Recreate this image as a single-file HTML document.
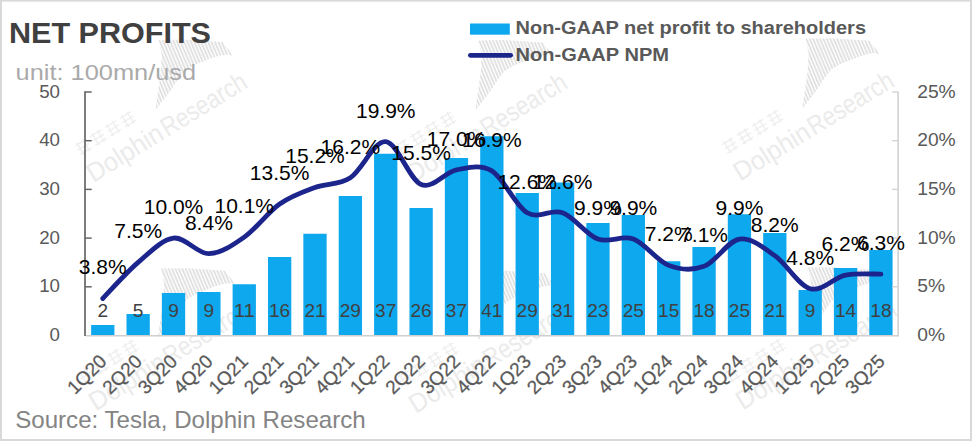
<!DOCTYPE html>
<html><head><meta charset="utf-8"><title>Net Profits</title>
<style>html,body{margin:0;padding:0;background:#fff;}body{width:972px;height:441px;position:relative;overflow:hidden;font-family:"Liberation Sans",sans-serif;}</style></head>
<body>
<svg width="972" height="441" viewBox="0 0 972 441" style="position:absolute;left:0;top:0;font-family:'Liberation Sans',sans-serif">
<rect x="0" y="0" width="972" height="441" fill="#fff"/>
<defs><pattern id="hatch" width="3.15" height="10" patternUnits="userSpaceOnUse" patternTransform="rotate(-23)"><rect x="0" y="0" width="1.9" height="10" fill="#e1e1e1"/></pattern></defs>
<g transform="translate(95.1,181.3)">
<polygon points="60.3,-71.5 63,-90.6 65.7,-108.7 66.6,-126.9 63.5,-141.4 89.3,-141.7 127.4,-139.2 132.9,-132.3 137.9,-125.4 132.9,-126.9 125.6,-125.9 116.5,-123.2 107.4,-119.6 98.4,-116 89.3,-110.5 82.9,-102.4 76.6,-92.4 71.1,-85.1 61.2,-72.4" fill="url(#hatch)"/>
<g transform="translate(-1.7,1.6) rotate(-31.7)">
<text x="0" y="0" font-size="26.5" fill="#ebebeb" textLength="85" lengthAdjust="spacingAndGlyphs">Dolphin</text><text x="87" y="0" font-size="26.5" fill="#ebebeb" textLength="96" lengthAdjust="spacingAndGlyphs">Research</text>
<g stroke="#eeeeee" stroke-width="1.3" fill="none"><path d="M4.0,-41 H17.0 M4.0,-36 H17.0 M4.0,-31 H17.0 M7.0,-43 V-29 M13.5,-43 V-29"/></g>
<g stroke="#eeeeee" stroke-width="1.3" fill="none"><path d="M21.5,-41 H34.5 M21.5,-36 H34.5 M21.5,-31 H34.5 M24.5,-43 V-29 M31.0,-43 V-29"/></g>
<g stroke="#eeeeee" stroke-width="1.3" fill="none"><path d="M39.0,-41 H52.0 M39.0,-36 H52.0 M39.0,-31 H52.0 M42.0,-43 V-29 M48.5,-43 V-29"/></g>
<g stroke="#eeeeee" stroke-width="1.3" fill="none"><path d="M56.5,-41 H69.5 M56.5,-36 H69.5 M56.5,-31 H69.5 M59.5,-43 V-29 M66.0,-43 V-29"/></g>
</g></g>
<g transform="translate(415,181.8)">
<polygon points="60.3,-71.5 63,-90.6 65.7,-108.7 66.6,-126.9 63.5,-141.4 89.3,-141.7 127.4,-139.2 132.9,-132.3 137.9,-125.4 132.9,-126.9 125.6,-125.9 116.5,-123.2 107.4,-119.6 98.4,-116 89.3,-110.5 82.9,-102.4 76.6,-92.4 71.1,-85.1 61.2,-72.4" fill="url(#hatch)"/>
<g transform="translate(-1.7,1.6) rotate(-31.7)">
<text x="0" y="0" font-size="26.5" fill="#ebebeb" textLength="85" lengthAdjust="spacingAndGlyphs">Dolphin</text><text x="87" y="0" font-size="26.5" fill="#ebebeb" textLength="96" lengthAdjust="spacingAndGlyphs">Research</text>
<g stroke="#eeeeee" stroke-width="1.3" fill="none"><path d="M4.0,-41 H17.0 M4.0,-36 H17.0 M4.0,-31 H17.0 M7.0,-43 V-29 M13.5,-43 V-29"/></g>
<g stroke="#eeeeee" stroke-width="1.3" fill="none"><path d="M21.5,-41 H34.5 M21.5,-36 H34.5 M21.5,-31 H34.5 M24.5,-43 V-29 M31.0,-43 V-29"/></g>
<g stroke="#eeeeee" stroke-width="1.3" fill="none"><path d="M39.0,-41 H52.0 M39.0,-36 H52.0 M39.0,-31 H52.0 M42.0,-43 V-29 M48.5,-43 V-29"/></g>
<g stroke="#eeeeee" stroke-width="1.3" fill="none"><path d="M56.5,-41 H69.5 M56.5,-36 H69.5 M56.5,-31 H69.5 M59.5,-43 V-29 M66.0,-43 V-29"/></g>
</g></g>
<g transform="translate(742,180)">
<polygon points="60.3,-71.5 63,-90.6 65.7,-108.7 66.6,-126.9 63.5,-141.4 89.3,-141.7 127.4,-139.2 132.9,-132.3 137.9,-125.4 132.9,-126.9 125.6,-125.9 116.5,-123.2 107.4,-119.6 98.4,-116 89.3,-110.5 82.9,-102.4 76.6,-92.4 71.1,-85.1 61.2,-72.4" fill="url(#hatch)"/>
<g transform="translate(-1.7,1.6) rotate(-31.7)">
<text x="0" y="0" font-size="26.5" fill="#ebebeb" textLength="85" lengthAdjust="spacingAndGlyphs">Dolphin</text><text x="87" y="0" font-size="26.5" fill="#ebebeb" textLength="96" lengthAdjust="spacingAndGlyphs">Research</text>
<g stroke="#eeeeee" stroke-width="1.3" fill="none"><path d="M4.0,-41 H17.0 M4.0,-36 H17.0 M4.0,-31 H17.0 M7.0,-43 V-29 M13.5,-43 V-29"/></g>
<g stroke="#eeeeee" stroke-width="1.3" fill="none"><path d="M21.5,-41 H34.5 M21.5,-36 H34.5 M21.5,-31 H34.5 M24.5,-43 V-29 M31.0,-43 V-29"/></g>
<g stroke="#eeeeee" stroke-width="1.3" fill="none"><path d="M39.0,-41 H52.0 M39.0,-36 H52.0 M39.0,-31 H52.0 M42.0,-43 V-29 M48.5,-43 V-29"/></g>
<g stroke="#eeeeee" stroke-width="1.3" fill="none"><path d="M56.5,-41 H69.5 M56.5,-36 H69.5 M56.5,-31 H69.5 M59.5,-43 V-29 M66.0,-43 V-29"/></g>
</g></g>
<g transform="translate(97.5,410)">
<polygon points="60.3,-71.5 63,-90.6 65.7,-108.7 66.6,-126.9 63.5,-141.4 89.3,-141.7 127.4,-139.2 132.9,-132.3 137.9,-125.4 132.9,-126.9 125.6,-125.9 116.5,-123.2 107.4,-119.6 98.4,-116 89.3,-110.5 82.9,-102.4 76.6,-92.4 71.1,-85.1 61.2,-72.4" fill="url(#hatch)"/>
<g transform="translate(-1.7,1.6) rotate(-31.7)">
<text x="0" y="0" font-size="26.5" fill="#ebebeb" textLength="85" lengthAdjust="spacingAndGlyphs">Dolphin</text><text x="87" y="0" font-size="26.5" fill="#ebebeb" textLength="96" lengthAdjust="spacingAndGlyphs">Research</text>
<g stroke="#eeeeee" stroke-width="1.3" fill="none"><path d="M4.0,-41 H17.0 M4.0,-36 H17.0 M4.0,-31 H17.0 M7.0,-43 V-29 M13.5,-43 V-29"/></g>
<g stroke="#eeeeee" stroke-width="1.3" fill="none"><path d="M21.5,-41 H34.5 M21.5,-36 H34.5 M21.5,-31 H34.5 M24.5,-43 V-29 M31.0,-43 V-29"/></g>
<g stroke="#eeeeee" stroke-width="1.3" fill="none"><path d="M39.0,-41 H52.0 M39.0,-36 H52.0 M39.0,-31 H52.0 M42.0,-43 V-29 M48.5,-43 V-29"/></g>
<g stroke="#eeeeee" stroke-width="1.3" fill="none"><path d="M56.5,-41 H69.5 M56.5,-36 H69.5 M56.5,-31 H69.5 M59.5,-43 V-29 M66.0,-43 V-29"/></g>
</g></g>
<g transform="translate(417.5,412.5)">
<polygon points="60.3,-71.5 63,-90.6 65.7,-108.7 66.6,-126.9 63.5,-141.4 89.3,-141.7 127.4,-139.2 132.9,-132.3 137.9,-125.4 132.9,-126.9 125.6,-125.9 116.5,-123.2 107.4,-119.6 98.4,-116 89.3,-110.5 82.9,-102.4 76.6,-92.4 71.1,-85.1 61.2,-72.4" fill="url(#hatch)"/>
<g transform="translate(-1.7,1.6) rotate(-31.7)">
<text x="0" y="0" font-size="26.5" fill="#ebebeb" textLength="85" lengthAdjust="spacingAndGlyphs">Dolphin</text><text x="87" y="0" font-size="26.5" fill="#ebebeb" textLength="96" lengthAdjust="spacingAndGlyphs">Research</text>
<g stroke="#eeeeee" stroke-width="1.3" fill="none"><path d="M4.0,-41 H17.0 M4.0,-36 H17.0 M4.0,-31 H17.0 M7.0,-43 V-29 M13.5,-43 V-29"/></g>
<g stroke="#eeeeee" stroke-width="1.3" fill="none"><path d="M21.5,-41 H34.5 M21.5,-36 H34.5 M21.5,-31 H34.5 M24.5,-43 V-29 M31.0,-43 V-29"/></g>
<g stroke="#eeeeee" stroke-width="1.3" fill="none"><path d="M39.0,-41 H52.0 M39.0,-36 H52.0 M39.0,-31 H52.0 M42.0,-43 V-29 M48.5,-43 V-29"/></g>
<g stroke="#eeeeee" stroke-width="1.3" fill="none"><path d="M56.5,-41 H69.5 M56.5,-36 H69.5 M56.5,-31 H69.5 M59.5,-43 V-29 M66.0,-43 V-29"/></g>
</g></g>
<g transform="translate(744.5,409)">
<polygon points="60.3,-71.5 63,-90.6 65.7,-108.7 66.6,-126.9 63.5,-141.4 89.3,-141.7 127.4,-139.2 132.9,-132.3 137.9,-125.4 132.9,-126.9 125.6,-125.9 116.5,-123.2 107.4,-119.6 98.4,-116 89.3,-110.5 82.9,-102.4 76.6,-92.4 71.1,-85.1 61.2,-72.4" fill="url(#hatch)"/>
<g transform="translate(-1.7,1.6) rotate(-31.7)">
<text x="0" y="0" font-size="26.5" fill="#ebebeb" textLength="85" lengthAdjust="spacingAndGlyphs">Dolphin</text><text x="87" y="0" font-size="26.5" fill="#ebebeb" textLength="96" lengthAdjust="spacingAndGlyphs">Research</text>
<g stroke="#eeeeee" stroke-width="1.3" fill="none"><path d="M4.0,-41 H17.0 M4.0,-36 H17.0 M4.0,-31 H17.0 M7.0,-43 V-29 M13.5,-43 V-29"/></g>
<g stroke="#eeeeee" stroke-width="1.3" fill="none"><path d="M21.5,-41 H34.5 M21.5,-36 H34.5 M21.5,-31 H34.5 M24.5,-43 V-29 M31.0,-43 V-29"/></g>
<g stroke="#eeeeee" stroke-width="1.3" fill="none"><path d="M39.0,-41 H52.0 M39.0,-36 H52.0 M39.0,-31 H52.0 M42.0,-43 V-29 M48.5,-43 V-29"/></g>
<g stroke="#eeeeee" stroke-width="1.3" fill="none"><path d="M56.5,-41 H69.5 M56.5,-36 H69.5 M56.5,-31 H69.5 M59.5,-43 V-29 M66.0,-43 V-29"/></g>
</g></g>
<rect x="91.13" y="325.00" width="23.3" height="10.50" fill="#0ea8ee"/>
<rect x="126.50" y="314.00" width="23.3" height="21.50" fill="#0ea8ee"/>
<rect x="161.87" y="293.00" width="23.3" height="42.50" fill="#0ea8ee"/>
<rect x="197.24" y="292.00" width="23.3" height="43.50" fill="#0ea8ee"/>
<rect x="232.61" y="284.25" width="23.3" height="51.25" fill="#0ea8ee"/>
<rect x="267.98" y="257.00" width="23.3" height="78.50" fill="#0ea8ee"/>
<rect x="303.35" y="233.75" width="23.3" height="101.75" fill="#0ea8ee"/>
<rect x="338.72" y="196.00" width="23.3" height="139.50" fill="#0ea8ee"/>
<rect x="374.09" y="153.75" width="23.3" height="181.75" fill="#0ea8ee"/>
<rect x="409.46" y="208.00" width="23.3" height="127.50" fill="#0ea8ee"/>
<rect x="444.83" y="158.00" width="23.3" height="177.50" fill="#0ea8ee"/>
<rect x="480.20" y="136.25" width="23.3" height="199.25" fill="#0ea8ee"/>
<rect x="515.57" y="193.00" width="23.3" height="142.50" fill="#0ea8ee"/>
<rect x="550.94" y="182.50" width="23.3" height="153.00" fill="#0ea8ee"/>
<rect x="586.31" y="223.00" width="23.3" height="112.50" fill="#0ea8ee"/>
<rect x="621.68" y="215.00" width="23.3" height="120.50" fill="#0ea8ee"/>
<rect x="657.05" y="261.25" width="23.3" height="74.25" fill="#0ea8ee"/>
<rect x="692.42" y="247.00" width="23.3" height="88.50" fill="#0ea8ee"/>
<rect x="727.79" y="214.25" width="23.3" height="121.25" fill="#0ea8ee"/>
<rect x="763.16" y="233.00" width="23.3" height="102.50" fill="#0ea8ee"/>
<rect x="798.53" y="290.00" width="23.3" height="45.50" fill="#0ea8ee"/>
<rect x="833.90" y="268.00" width="23.3" height="67.50" fill="#0ea8ee"/>
<rect x="869.27" y="250.00" width="23.3" height="85.50" fill="#0ea8ee"/>
<line x1="85.8" y1="335.7" x2="898.6" y2="335.7" stroke="#cfcfcf" stroke-width="1.6"/>
<line x1="898.1" y1="91.4" x2="898.1" y2="336.5" stroke="#cfcfcf" stroke-width="1.5"/>
<line x1="85.0" y1="91.3" x2="85.0" y2="335.9" stroke="#666666" stroke-width="1.7"/>
<text x="49.59" y="341.00" font-size="17.5" fill="#595959" textLength="10.41" lengthAdjust="spacingAndGlyphs">0</text>
<text x="917.2" y="341.00" font-size="17.5" fill="#595959" textLength="27.82" lengthAdjust="spacingAndGlyphs">0%</text>
<line x1="85.1" y1="286.80" x2="91.69999999999999" y2="286.80" stroke="#666666" stroke-width="1.5"/>
<line x1="892.1" y1="286.80" x2="898.1" y2="286.80" stroke="#d4d4d4" stroke-width="1.4"/>
<text x="39.18" y="292.30" font-size="17.5" fill="#595959" textLength="20.82" lengthAdjust="spacingAndGlyphs">10</text>
<text x="917.2" y="292.30" font-size="17.5" fill="#595959" textLength="27.82" lengthAdjust="spacingAndGlyphs">5%</text>
<line x1="85.1" y1="238.10" x2="91.69999999999999" y2="238.10" stroke="#666666" stroke-width="1.5"/>
<line x1="892.1" y1="238.10" x2="898.1" y2="238.10" stroke="#d4d4d4" stroke-width="1.4"/>
<text x="39.18" y="243.60" font-size="17.5" fill="#595959" textLength="20.82" lengthAdjust="spacingAndGlyphs">20</text>
<text x="917.2" y="243.60" font-size="17.5" fill="#595959" textLength="38.52" lengthAdjust="spacingAndGlyphs">10%</text>
<line x1="85.1" y1="189.40" x2="91.69999999999999" y2="189.40" stroke="#666666" stroke-width="1.5"/>
<line x1="892.1" y1="189.40" x2="898.1" y2="189.40" stroke="#d4d4d4" stroke-width="1.4"/>
<text x="39.18" y="194.90" font-size="17.5" fill="#595959" textLength="20.82" lengthAdjust="spacingAndGlyphs">30</text>
<text x="917.2" y="194.90" font-size="17.5" fill="#595959" textLength="38.52" lengthAdjust="spacingAndGlyphs">15%</text>
<line x1="85.1" y1="140.70" x2="91.69999999999999" y2="140.70" stroke="#666666" stroke-width="1.5"/>
<line x1="892.1" y1="140.70" x2="898.1" y2="140.70" stroke="#d4d4d4" stroke-width="1.4"/>
<text x="39.18" y="146.20" font-size="17.5" fill="#595959" textLength="20.82" lengthAdjust="spacingAndGlyphs">40</text>
<text x="917.2" y="146.20" font-size="17.5" fill="#595959" textLength="38.52" lengthAdjust="spacingAndGlyphs">20%</text>
<line x1="85.1" y1="92.00" x2="91.69999999999999" y2="92.00" stroke="#666666" stroke-width="1.5"/>
<line x1="892.1" y1="92.00" x2="898.1" y2="92.00" stroke="#d4d4d4" stroke-width="1.4"/>
<text x="39.18" y="97.50" font-size="17.5" fill="#595959" textLength="20.82" lengthAdjust="spacingAndGlyphs">50</text>
<text x="917.2" y="97.50" font-size="17.5" fill="#595959" textLength="38.52" lengthAdjust="spacingAndGlyphs">25%</text>
<text x="97.48" y="317.4" font-size="18" fill="#404040" textLength="10.60" lengthAdjust="spacingAndGlyphs">2</text>
<text x="132.85" y="317.4" font-size="18" fill="#404040" textLength="10.60" lengthAdjust="spacingAndGlyphs">5</text>
<text x="168.22" y="317.4" font-size="18" fill="#404040" textLength="10.60" lengthAdjust="spacingAndGlyphs">9</text>
<text x="203.59" y="317.4" font-size="18" fill="#404040" textLength="10.60" lengthAdjust="spacingAndGlyphs">9</text>
<text x="233.66" y="317.4" font-size="18" fill="#404040" textLength="21.20" lengthAdjust="spacingAndGlyphs">11</text>
<text x="269.03" y="317.4" font-size="18" fill="#404040" textLength="21.20" lengthAdjust="spacingAndGlyphs">16</text>
<text x="304.40" y="317.4" font-size="18" fill="#404040" textLength="21.20" lengthAdjust="spacingAndGlyphs">21</text>
<text x="339.77" y="317.4" font-size="18" fill="#404040" textLength="21.20" lengthAdjust="spacingAndGlyphs">29</text>
<text x="375.14" y="317.4" font-size="18" fill="#404040" textLength="21.20" lengthAdjust="spacingAndGlyphs">37</text>
<text x="410.51" y="317.4" font-size="18" fill="#404040" textLength="21.20" lengthAdjust="spacingAndGlyphs">26</text>
<text x="445.88" y="317.4" font-size="18" fill="#404040" textLength="21.20" lengthAdjust="spacingAndGlyphs">37</text>
<text x="481.25" y="317.4" font-size="18" fill="#404040" textLength="21.20" lengthAdjust="spacingAndGlyphs">41</text>
<text x="516.62" y="317.4" font-size="18" fill="#404040" textLength="21.20" lengthAdjust="spacingAndGlyphs">29</text>
<text x="551.99" y="317.4" font-size="18" fill="#404040" textLength="21.20" lengthAdjust="spacingAndGlyphs">31</text>
<text x="587.36" y="317.4" font-size="18" fill="#404040" textLength="21.20" lengthAdjust="spacingAndGlyphs">23</text>
<text x="622.73" y="317.4" font-size="18" fill="#404040" textLength="21.20" lengthAdjust="spacingAndGlyphs">25</text>
<text x="658.10" y="317.4" font-size="18" fill="#404040" textLength="21.20" lengthAdjust="spacingAndGlyphs">15</text>
<text x="693.47" y="317.4" font-size="18" fill="#404040" textLength="21.20" lengthAdjust="spacingAndGlyphs">18</text>
<text x="728.84" y="317.4" font-size="18" fill="#404040" textLength="21.20" lengthAdjust="spacingAndGlyphs">25</text>
<text x="764.21" y="317.4" font-size="18" fill="#404040" textLength="21.20" lengthAdjust="spacingAndGlyphs">21</text>
<text x="804.88" y="317.4" font-size="18" fill="#404040" textLength="10.60" lengthAdjust="spacingAndGlyphs">9</text>
<text x="834.95" y="317.4" font-size="18" fill="#404040" textLength="21.20" lengthAdjust="spacingAndGlyphs">14</text>
<text x="870.32" y="317.4" font-size="18" fill="#404040" textLength="21.20" lengthAdjust="spacingAndGlyphs">18</text>
<path d="M102.78,298.49 C108.68,292.48 126.36,272.51 138.15,262.45 C149.94,252.39 161.73,239.56 173.52,238.10 C185.31,236.64 197.10,253.85 208.89,253.68 C220.68,253.52 232.47,245.41 244.26,237.13 C256.05,228.85 267.84,212.29 279.63,204.01 C291.42,195.73 303.21,191.83 315.00,187.45 C326.79,183.07 338.58,185.34 350.37,177.71 C362.16,170.08 373.95,140.54 385.74,141.67 C397.53,142.81 409.32,179.82 421.11,184.53 C432.90,189.24 444.69,172.19 456.48,169.92 C468.27,167.65 480.06,163.75 491.85,170.89 C503.64,178.04 515.43,205.80 527.22,212.78 C539.01,219.76 550.80,208.39 562.59,212.78 C574.38,217.16 586.17,234.69 597.96,239.07 C609.75,243.46 621.54,234.69 633.33,239.07 C645.12,243.46 656.91,260.83 668.70,265.37 C680.49,269.92 692.28,270.73 704.07,266.35 C715.86,261.96 727.65,240.86 739.44,239.07 C751.23,237.29 763.02,247.35 774.81,255.63 C786.60,263.91 798.39,285.50 810.18,288.75 C821.97,291.99 833.76,277.55 845.55,275.11 C857.34,272.68 875.02,274.30 880.92,274.14" fill="none" stroke="#1c258c" stroke-width="4.8" stroke-linecap="round" stroke-linejoin="round"/>
<text x="102.78" y="274.39" font-size="21" fill="#000" text-anchor="middle">3.8%</text>
<text x="138.15" y="238.35" font-size="21" fill="#000" text-anchor="middle">7.5%</text>
<text x="173.52" y="214.00" font-size="21" fill="#000" text-anchor="middle">10.0%</text>
<text x="208.89" y="229.58" font-size="21" fill="#000" text-anchor="middle">8.4%</text>
<text x="244.26" y="213.03" font-size="21" fill="#000" text-anchor="middle">10.1%</text>
<text x="279.63" y="179.91" font-size="21" fill="#000" text-anchor="middle">13.5%</text>
<text x="315.00" y="163.35" font-size="21" fill="#000" text-anchor="middle">15.2%</text>
<text x="350.37" y="153.61" font-size="21" fill="#000" text-anchor="middle">16.2%</text>
<text x="385.74" y="117.57" font-size="21" fill="#000" text-anchor="middle">19.9%</text>
<text x="421.11" y="160.43" font-size="21" fill="#000" text-anchor="middle">15.5%</text>
<text x="456.48" y="145.82" font-size="21" fill="#000" text-anchor="middle">17.0%</text>
<text x="491.85" y="146.79" font-size="21" fill="#000" text-anchor="middle">16.9%</text>
<text x="527.22" y="188.68" font-size="21" fill="#000" text-anchor="middle">12.6%</text>
<text x="562.59" y="188.68" font-size="21" fill="#000" text-anchor="middle">12.6%</text>
<text x="597.96" y="214.97" font-size="21" fill="#000" text-anchor="middle">9.9%</text>
<text x="633.33" y="214.97" font-size="21" fill="#000" text-anchor="middle">9.9%</text>
<text x="668.70" y="241.27" font-size="21" fill="#000" text-anchor="middle">7.2%</text>
<text x="704.07" y="242.25" font-size="21" fill="#000" text-anchor="middle">7.1%</text>
<text x="739.44" y="214.97" font-size="21" fill="#000" text-anchor="middle">9.9%</text>
<text x="774.81" y="231.53" font-size="21" fill="#000" text-anchor="middle">8.2%</text>
<text x="810.18" y="264.65" font-size="21" fill="#000" text-anchor="middle">4.8%</text>
<text x="845.55" y="251.01" font-size="21" fill="#000" text-anchor="middle">6.2%</text>
<text x="880.92" y="250.04" font-size="21" fill="#000" text-anchor="middle">6.3%</text>
<text transform="translate(107.78,362.5) rotate(-45)" font-size="19" fill="#595959" stroke="#595959" stroke-width="0.25" text-anchor="end">1Q20</text>
<text transform="translate(143.15,362.5) rotate(-45)" font-size="19" fill="#595959" stroke="#595959" stroke-width="0.25" text-anchor="end">2Q20</text>
<text transform="translate(178.52,362.5) rotate(-45)" font-size="19" fill="#595959" stroke="#595959" stroke-width="0.25" text-anchor="end">3Q20</text>
<text transform="translate(213.89,362.5) rotate(-45)" font-size="19" fill="#595959" stroke="#595959" stroke-width="0.25" text-anchor="end">4Q20</text>
<text transform="translate(249.26,362.5) rotate(-45)" font-size="19" fill="#595959" stroke="#595959" stroke-width="0.25" text-anchor="end">1Q21</text>
<text transform="translate(284.63,362.5) rotate(-45)" font-size="19" fill="#595959" stroke="#595959" stroke-width="0.25" text-anchor="end">2Q21</text>
<text transform="translate(320.00,362.5) rotate(-45)" font-size="19" fill="#595959" stroke="#595959" stroke-width="0.25" text-anchor="end">3Q21</text>
<text transform="translate(355.37,362.5) rotate(-45)" font-size="19" fill="#595959" stroke="#595959" stroke-width="0.25" text-anchor="end">4Q21</text>
<text transform="translate(390.74,362.5) rotate(-45)" font-size="19" fill="#595959" stroke="#595959" stroke-width="0.25" text-anchor="end">1Q22</text>
<text transform="translate(426.11,362.5) rotate(-45)" font-size="19" fill="#595959" stroke="#595959" stroke-width="0.25" text-anchor="end">2Q22</text>
<text transform="translate(461.48,362.5) rotate(-45)" font-size="19" fill="#595959" stroke="#595959" stroke-width="0.25" text-anchor="end">3Q22</text>
<text transform="translate(496.85,362.5) rotate(-45)" font-size="19" fill="#595959" stroke="#595959" stroke-width="0.25" text-anchor="end">4Q22</text>
<text transform="translate(532.22,362.5) rotate(-45)" font-size="19" fill="#595959" stroke="#595959" stroke-width="0.25" text-anchor="end">1Q23</text>
<text transform="translate(567.59,362.5) rotate(-45)" font-size="19" fill="#595959" stroke="#595959" stroke-width="0.25" text-anchor="end">2Q23</text>
<text transform="translate(602.96,362.5) rotate(-45)" font-size="19" fill="#595959" stroke="#595959" stroke-width="0.25" text-anchor="end">3Q23</text>
<text transform="translate(638.33,362.5) rotate(-45)" font-size="19" fill="#595959" stroke="#595959" stroke-width="0.25" text-anchor="end">4Q23</text>
<text transform="translate(673.70,362.5) rotate(-45)" font-size="19" fill="#595959" stroke="#595959" stroke-width="0.25" text-anchor="end">1Q24</text>
<text transform="translate(709.07,362.5) rotate(-45)" font-size="19" fill="#595959" stroke="#595959" stroke-width="0.25" text-anchor="end">2Q24</text>
<text transform="translate(744.44,362.5) rotate(-45)" font-size="19" fill="#595959" stroke="#595959" stroke-width="0.25" text-anchor="end">3Q24</text>
<text transform="translate(779.81,362.5) rotate(-45)" font-size="19" fill="#595959" stroke="#595959" stroke-width="0.25" text-anchor="end">4Q24</text>
<text transform="translate(815.18,362.5) rotate(-45)" font-size="19" fill="#595959" stroke="#595959" stroke-width="0.25" text-anchor="end">1Q25</text>
<text transform="translate(850.55,362.5) rotate(-45)" font-size="19" fill="#595959" stroke="#595959" stroke-width="0.25" text-anchor="end">2Q25</text>
<text transform="translate(885.92,362.5) rotate(-45)" font-size="19" fill="#595959" stroke="#595959" stroke-width="0.25" text-anchor="end">3Q25</text>
<text x="9" y="42.6" font-size="29.3" font-weight="bold" fill="#404040" textLength="202" lengthAdjust="spacingAndGlyphs">NET PROFITS</text>
<text x="15.6" y="79.8" font-size="22.5" fill="#aaaaaa" textLength="180.5" lengthAdjust="spacingAndGlyphs">unit: 100mn/usd</text>
<text x="15.2" y="427.8" font-size="23.6" fill="#848484" textLength="350.5" lengthAdjust="spacingAndGlyphs">Source: Tesla, Dolphin Research</text>
<rect x="470" y="23.5" width="39.8" height="11.2" fill="#0ea8ee"/>
<line x1="470.4" y1="55.3" x2="510.6" y2="55.3" stroke="#1c258c" stroke-width="4.8" stroke-linecap="round"/>
<text x="515.5" y="34.2" font-size="17.6" font-weight="bold" fill="#595959" textLength="350.5" lengthAdjust="spacingAndGlyphs">Non-GAAP net profit to shareholders</text>
<text x="515.5" y="60.7" font-size="17.6" font-weight="bold" fill="#595959" textLength="153.5" lengthAdjust="spacingAndGlyphs">Non-GAAP NPM</text>
<rect x="0" y="0" width="972" height="1.6" fill="#d9d9d9"/>
<rect x="0" y="0" width="2" height="441" fill="#d9d9d9"/>
<rect x="970" y="0" width="2" height="441" fill="#d9d9d9"/>
<rect x="0" y="439" width="972" height="2" fill="#d9d9d9"/>
</svg>
</body></html>
